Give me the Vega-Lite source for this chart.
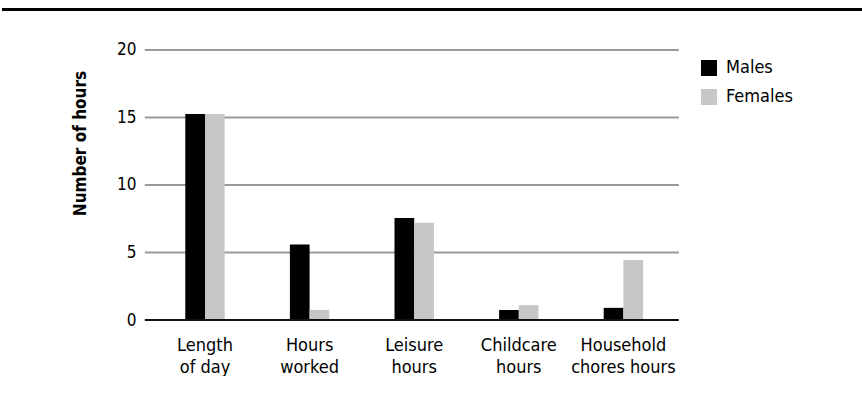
{
  "$schema": "https://vega.github.io/schema/vega-lite/v6.json",
  "width": 862,
  "height": 320,
  "padding": 0,
  "autosize": {"type": "pad"},
  "background": "white",
  "config": {
    "view": {"stroke": null},
    "font": "Liberation Sans Narrow, DejaVu Sans Condensed, sans-serif"
  },
  "datasets": {
    "bars": [
      {"category": "Length of day", "sex": "Males", "hours": 15.25},
      {"category": "Length of day", "sex": "Females", "hours": 15.25},
      {"category": "Hours worked", "sex": "Males", "hours": 5.6},
      {"category": "Hours worked", "sex": "Females", "hours": 0.75},
      {"category": "Leisure hours", "sex": "Males", "hours": 7.55},
      {"category": "Leisure hours", "sex": "Females", "hours": 7.2},
      {"category": "Childcare hours", "sex": "Males", "hours": 0.75},
      {"category": "Childcare hours", "sex": "Females", "hours": 1.1},
      {"category": "Household chores hours", "sex": "Males", "hours": 0.9},
      {"category": "Household chores hours", "sex": "Females", "hours": 4.45}
    ],
    "grid": [{"v": 5}, {"v": 10}, {"v": 15}, {"v": 20}],
    "zero": [{"v": 0}],
    "topline": [{"v": 23}]
  },
  "layer": [
    {
      "data": {"name": "grid"},
      "mark": {"type": "rule", "color": "#9a9a9a", "strokeWidth": 2},
      "encoding": {
        "x": {"datum": "Length of day", "type": "nominal", "bandPosition": -0.075},
        "x2": {"datum": "Household chores hours", "bandPosition": 1.03},
        "y": {"field": "v", "type": "quantitative", "title": "Number of hours"}
      }
    },
    {
      "data": {"name": "bars"},
      "mark": {"type": "bar"},
      "encoding": {
        "x": {
          "field": "category",
          "type": "nominal",
          "sort": ["Length of day", "Hours worked", "Leisure hours", "Childcare hours", "Household chores hours"],
          "scale": {
            "domain": ["Length of day", "Hours worked", "Leisure hours", "Childcare hours", "Household chores hours"],
            "range": [150.7, 673.7],
            "paddingInner": 0,
            "paddingOuter": 0
          },
          "axis": {
            "title": null,
            "domain": false,
            "ticks": false,
            "labelAngle": 0,
            "labelAlign": "center",
            "labelFontSize": 18,
            "labelLineHeight": 22,
            "labelPadding": 25,
            "labelColor": "#000000",
            "labelOverlap": false,
            "labelLimit": 300,
            "labelExpr": "datum.label == 'Length of day' ? ['Length', 'of day'] : datum.label == 'Hours worked' ? ['Hours', 'worked'] : datum.label == 'Leisure hours' ? ['Leisure', 'hours'] : datum.label == 'Childcare hours' ? ['Childcare', 'hours'] : ['Household', 'chores hours']"
          }
        },
        "xOffset": {
          "field": "sex",
          "type": "nominal",
          "sort": ["Males", "Females"],
          "scale": {"domain": ["Males", "Females"], "range": [32.6, 72.0], "paddingInner": 0, "paddingOuter": 0}
        },
        "y": {
          "field": "hours",
          "type": "quantitative",
          "title": "Number of hours",
          "scale": {"domain": [0, 23.7037], "nice": false, "zero": true},
          "axis": {
            "values": [0, 5, 10, 15, 20],
            "offset": -143,
            "domain": false,
            "ticks": false,
            "grid": false,
            "labelFontSize": 17,
            "labelPadding": 9,
            "labelColor": "#000000",
            "titleFontSize": 17,
            "titleFontWeight": "bold",
            "titleColor": "#000000",
            "titleAngle": -90,
            "titleBaseline": "middle",
            "titleAlign": "center",
            "titleX": -65,
            "titleY": 143
          }
        },
        "color": {
          "field": "sex",
          "type": "nominal",
          "scale": {"domain": ["Males", "Females"], "range": ["#000000", "#c6c7c8"]},
          "legend": {
            "title": null,
            "orient": "none",
            "legendX": 698,
            "legendY": 59,
            "symbolType": "square",
            "symbolSize": 256,
            "symbolStrokeWidth": 0,
            "labelFontSize": 18,
            "labelOffset": 8,
            "labelColor": "#000000",
            "rowPadding": 11,
            "padding": 0
          }
        }
      }
    },
    {
      "data": {"name": "zero"},
      "mark": {"type": "rule", "color": "#111111", "strokeWidth": 2},
      "encoding": {
        "x": {"datum": "Length of day", "type": "nominal", "bandPosition": -0.075},
        "x2": {"datum": "Household chores hours", "bandPosition": 1.03},
        "y": {"field": "v", "type": "quantitative", "title": "Number of hours"}
      }
    },
    {
      "data": {"name": "topline"},
      "mark": {"type": "rule", "color": "#000000", "strokeWidth": 3},
      "encoding": {
        "y": {"field": "v", "type": "quantitative", "title": "Number of hours"}
      }
    }
  ]
}
